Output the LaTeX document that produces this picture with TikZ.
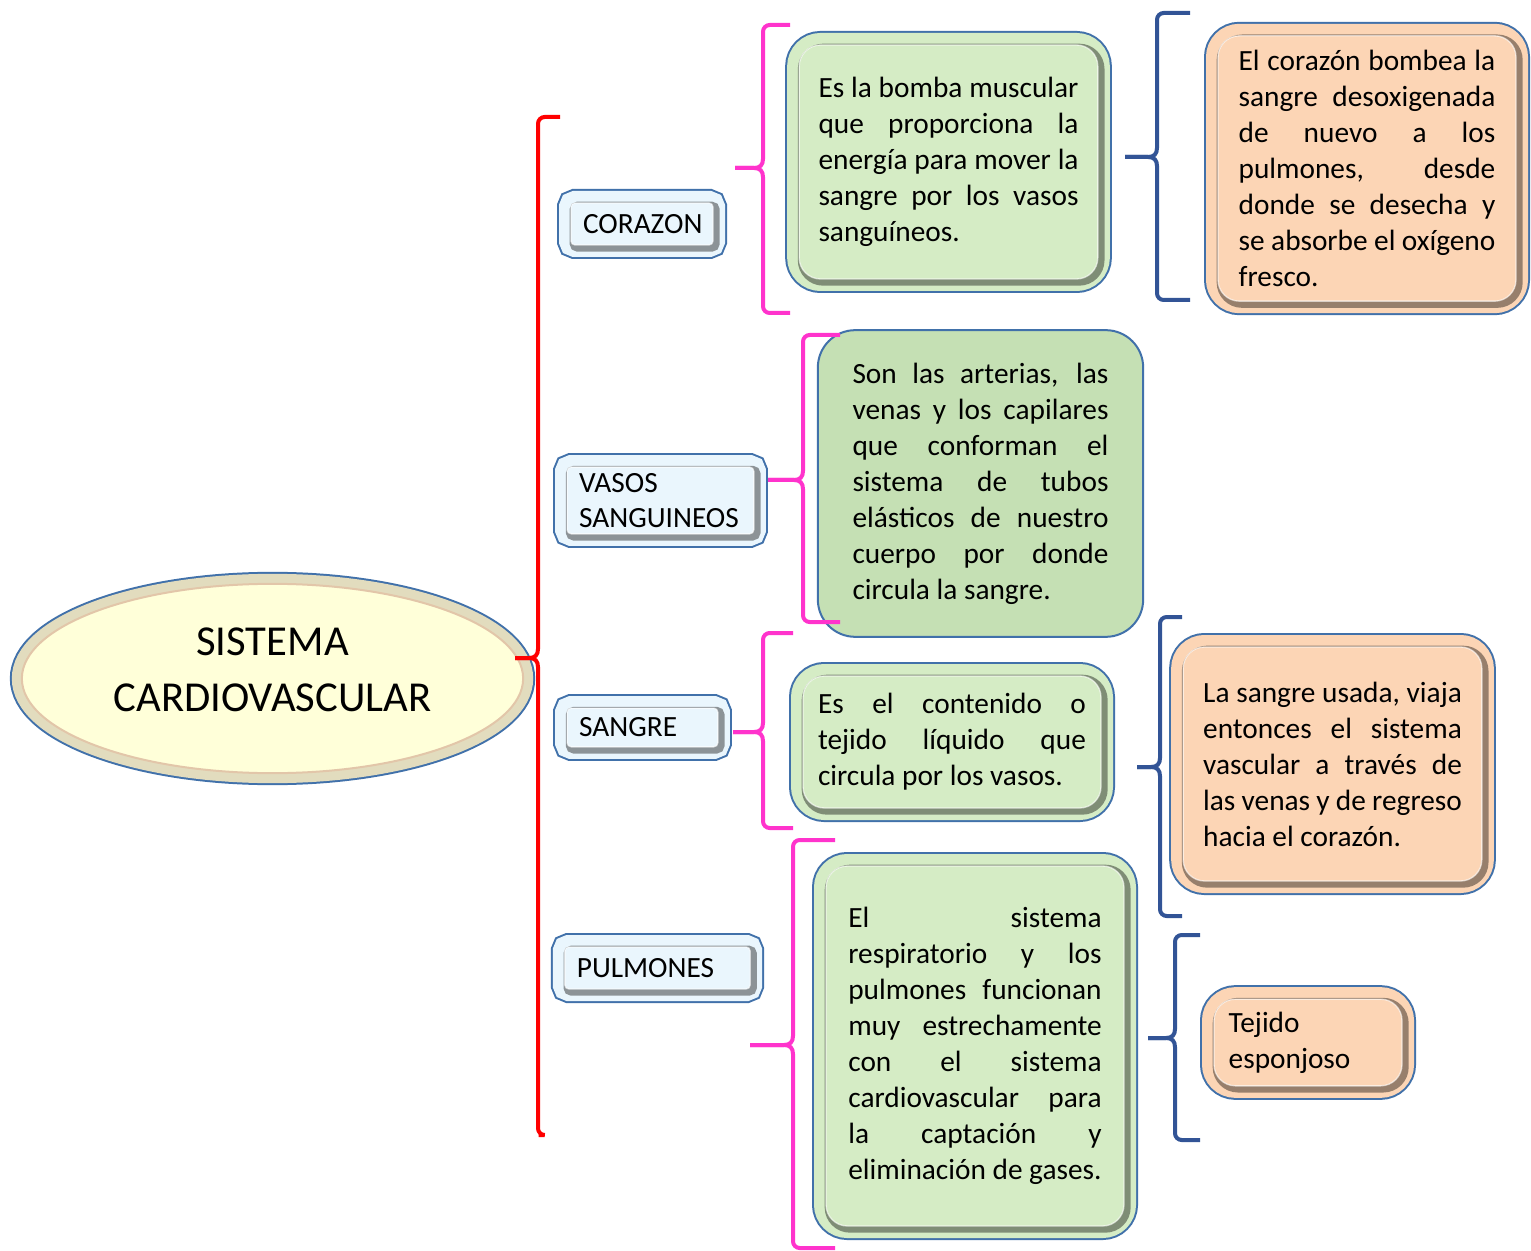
\documentclass[tikz,border=0pt]{standalone}
\usepackage{fontspec}
\setmainfont{Carlito}
\usetikzlibrary{shapes.geometric}
\hyphenpenalty=10000
\exhyphenpenalty=10000

\definecolor{marcoazul}{RGB}{65,113,170}
\definecolor{llaveazul}{RGB}{50,84,150}
\definecolor{llaverosa}{RGB}{255,51,204}
\definecolor{rellenoceleste}{RGB}{234,246,253}
\definecolor{rellenoverde}{RGB}{213,236,197}
\definecolor{rellenoverdeb}{RGB}{197,224,180}
\definecolor{rellenonaranja}{RGB}{252,213,181}
\definecolor{rellenoamarillo}{RGB}{255,255,217}
\definecolor{anillo}{RGB}{226,220,190}

\newcommand{\titulofont}{\fontsize{32}{42}\selectfont}
\newcommand{\etiquetafont}{\fontsize{22}{26}\selectfont}
\newcommand{\cuerpofont}{\fontsize{22}{27}\selectfont}

% llave: estilo, punta, brazo, arriba, abajo, gancho arriba, gancho abajo
\newcommand{\llave}[7]{%
  \draw[#1] (#2) -- ++(#3-9,0) .. controls +(6,0) and +(0,6) .. ++(9,-9) [rounded corners=5pt] -- ++(0,9-#4) -- ++(#6,0);
  \draw[#1] (#2) -- ++(#3-9,0) .. controls +(6,0) and +(0,-6) .. ++(9,9) [rounded corners=5pt] -- ++(0,#5-9) -- ++(#7,0);}

\tikzset{every picture/.style={line width=0.75pt}}
\tikzset{
  biselada/.style 2 args={rounded corners=#2, fill=#1, draw=white, draw opacity=.6, line width=1pt,
    preaction={draw=marcoazul, draw opacity=1, line width=21pt},
    preaction={draw=#1, draw opacity=1, line width=18pt},
    preaction={draw=black, draw opacity=.4, line width=6pt, transform canvas={shift={(2pt,-2pt)}}}},
  etiqueta/.style={biselada={rellenoceleste}{3pt}, font=\etiquetafont, align=left, inner xsep=9pt, inner ysep=0pt},
  cajaverde/.style={biselada={rellenoverde}{16pt}, font=\cuerpofont, align=justify, inner ysep=0pt},
  cajanaranja/.style={biselada={rellenonaranja}{16pt}, font=\cuerpofont, align=justify, inner ysep=0pt},
  cajalisa/.style={rounded corners=28pt, fill=rellenoverdeb, draw=marcoazul, line width=1.5pt, font=\cuerpofont, align=justify, inner ysep=0pt},
  elipse/.style={ellipse, fill=rellenoamarillo, draw=brown!45, line width=1.5pt,
    preaction={draw=marcoazul, line width=18pt},
    preaction={draw=anillo, line width=15pt},
    font=\titulofont, align=center, minimum width=376pt, minimum height=142pt},
  rojo/.style={draw=red, line width=3pt},
  rosa/.style={draw=llaverosa, line width=3pt},
  azul/.style={draw=llaveazul, line width=3pt}
}

\begin{document}
\begin{tikzpicture}[x=0.75pt,y=0.75pt,yscale=-1,xscale=1]
\useasboundingbox (0,0) rectangle (1531,1251);

%Shape: Ellipse [id:sistema]
\node [elipse, text depth=13pt] (sistema) at (272.5,678.5) {SISTEMA\\CARDIOVASCULAR};

% Label Nodes
\node [etiqueta, text width=88.5pt, minimum height=31.5pt] (corazon) at (642,224) {CORAZON};
\node [etiqueta, text width=122pt, minimum height=50pt] (vasos) at (660.5,500.5) {VASOS\\SANGUINEOS};
\node [etiqueta, text width=95pt, minimum height=29pt] (sangre) at (642.5,727.5) {SANGRE};
\node [etiqueta, text width=121pt, minimum height=31.5pt] (pulmones) at (657.5,968) {PULMONES};

% Text Nodes
\node [cajaverde, text width=195pt, inner xsep=14.5pt, minimum height=175.5pt] (bomba) at (948.5,162) {Es la bomba muscular\linebreak que proporciona la\linebreak energía para mover la\linebreak sangre por los vasos\linebreak sanguíneos.};
\node [cajalisa, text width=192pt, inner xsep=26pt, minimum height=230pt] (arterias) at (980.5,483.5) {Son las arterias, las\linebreak venas y los capilares\linebreak que conforman el\linebreak sistema de tubos\linebreak elásticos de nuestro\linebreak cuerpo por donde\linebreak circula la sangre.};
\node [cajaverde, text width=201pt, inner xsep=11.25pt, minimum height=99pt] (liquido) at (952,742) {Es el contenido o\linebreak tejido líquido que\linebreak circula por los vasos.};
\node [cajaverde, text width=190pt, inner xsep=16.75pt, minimum height=270pt] (respira) at (975,1046) {El sistema\linebreak respiratorio y los\linebreak pulmones funcionan\linebreak muy estrechamente\linebreak con el sistema\linebreak cardiovascular para\linebreak la captación y\linebreak eliminación de gases.};
\node [cajanaranja, text width=192.5pt, inner xsep=15.5pt, minimum height=199pt] (bombea) at (1367,168.5) {El corazón bombea la\linebreak sangre desoxigenada\linebreak de nuevo a los\linebreak pulmones, desde\linebreak donde se desecha y\linebreak se absorbe el oxígeno\linebreak fresco.};
\node [cajanaranja, text width=194pt, inner xsep=15pt, minimum height=175.5pt] (usada) at (1332.5,764) {La sangre usada, viaja\linebreak entonces el sistema\linebreak vascular a través de\linebreak las venas y de regreso\linebreak hacia el corazón.};
\node [cajanaranja, align=left, text width=119pt, inner xsep=11pt, minimum height=65pt] (tejido) at (1308,1042.5) {Tejido\\esponjoso};

% Brackets
\coordinate (prin) at (515,658);
\coordinate (p1) at (735,168);
\coordinate (p2) at (768,480);
\coordinate (p3) at (733,732);
\coordinate (p4) at (750,1045);
\coordinate (q1) at (1125,157);
\coordinate (q2) at (1137,767);
\coordinate (q3) at (1148,1038);
\llave{rojo}{prin}{23}{541}{477}{22}{0.5}
\llave{rosa}{p1}{28}{143}{145}{27}{27}
\llave{rosa}{p2}{35}{145}{142}{37}{37}
\llave{rosa}{p3}{30}{99}{96}{30}{30}
\llave{rosa}{p4}{43}{205}{203}{42}{42}
\llave{azul}{q1}{32}{144}{143}{33}{33}
\llave{azul}{q2}{23}{150}{149}{22}{22}
\llave{azul}{q3}{27}{103}{102}{25}{25}
\end{tikzpicture}
\end{document}
